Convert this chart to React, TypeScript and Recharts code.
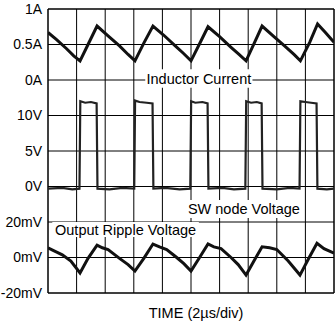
import { ComposedChart, Line, XAxis, YAxis, CartesianGrid, ReferenceArea } from 'recharts';

// time axis: 10 divisions of 2 µs
const timeTicks = [0, 2, 4, 6, 8, 10, 12, 14, 16, 18, 20];

// left axis labels, one per division line, bottom to top
const divTicks = [0, 1, 2, 3, 4, 5, 6, 7, 8];
const divLabels = ['-20mV', '0mV', '20mV', '0V', '5V', '10V', '0A', '0.5A', '1A'];

// inductor current (A)
const currentTimes = [0, 0.6, 1.3, 1.8, 2.24, 2.8, 3.43, 4.2, 5.0, 5.6, 6.08, 6.7, 7.34, 8.1, 8.9, 9.5, 10.0, 10.6, 11.19, 12.0, 12.8, 13.3, 13.85, 14.4, 14.97, 15.8, 16.6, 17.2, 17.65, 18.3, 18.85, 19.4, 20];
const currentAmps = [0.67, 0.57, 0.44, 0.34, 0.27, 0.5, 0.76, 0.62, 0.48, 0.36, 0.27, 0.52, 0.76, 0.63, 0.48, 0.37, 0.27, 0.51, 0.75, 0.61, 0.46, 0.37, 0.27, 0.51, 0.76, 0.61, 0.47, 0.36, 0.27, 0.53, 0.79, 0.67, 0.53];

// switch node voltage (V)
const swTimes = [0, 1.0, 1.7, 2.2, 2.26, 2.6, 3.0, 3.4, 3.46, 4.3, 5.2, 6.03, 6.09, 6.4, 6.9, 7.31, 7.37, 8.2, 9.2, 9.95, 10.01, 10.3, 10.8, 11.16, 11.22, 12.2, 13.0, 13.8, 13.86, 14.2, 14.6, 14.94, 15.0, 16.0, 16.9, 17.59, 17.65, 18.0, 18.4, 18.78, 18.84, 19.5, 20];
const swVolts = [-0.3, -0.2, -0.4, -0.3, 12.0, 11.8, 11.9, 11.7, -0.3, -0.4, -0.2, -0.3, 12.1, 11.9, 11.8, 11.7, -0.3, -0.2, -0.4, -0.3, 12.0, 11.8, 11.9, 11.7, -0.3, -0.2, -0.4, -0.3, 12.0, 11.8, 11.9, 11.7, -0.3, -0.4, -0.2, -0.3, 12.0, 11.9, 11.8, 11.7, -0.3, -0.4, -0.3];

// output ripple voltage (mV)
const rippleTimes = [0, 0.5, 1.0, 1.6, 2.24, 2.8, 3.43, 3.8, 4.2, 5.0, 5.6, 6.08, 6.7, 7.34, 7.8, 8.3, 9.0, 9.5, 10.0, 10.6, 11.19, 11.6, 12.1, 12.8, 13.3, 13.85, 14.4, 14.97, 15.5, 16.0, 16.8, 17.62, 18.2, 18.81, 19.3, 20];
const rippleMv = [5.4, 3.5, 1.5, -2, -8.7, -0.5, 7, 5.5, 4.5, -0.5, -4, -7.6, -0.5, 7.6, 6, 4.5, 0, -3.5, -7.6, 0, 7.6, 6, 5, 0, -4, -9.9, -2, 6, 5.5, 4.5, -2, -9.9, -1, 8, 5, 2.5];

const currentData = currentTimes.map((t, i) => ({ t, v: currentAmps[i] }));
const swData = swTimes.map((t, i) => ({ t, v: swVolts[i] }));
const rippleData = rippleTimes.map((t, i) => ({ t, v: rippleMv[i] }));

const labelStyle = { fill: '#000', fontSize: 14.5 };

export default function App() {
    return (
        <div style={{ position: 'absolute', left: 0, top: 0, width: 335, height: 324, background: '#fff', fontFamily: '"Liberation Sans", Arial, sans-serif' }}>
            <ComposedChart width={335} height={324} margin={{ top: 9, right: 1, bottom: 0, left: 0 }}>
                <XAxis
                    dataKey="t"
                    type="number"
                    domain={[0, 20]}
                    allowDataOverflow
                    ticks={timeTicks}
                    interval={0}
                    tick={() => <g />}
                    tickLine={false}
                    axisLine={false}
                    height={31}
                    label={{ value: 'TIME (2µs/div)', position: 'insideBottom', offset: 6, dx: 5, fill: '#000', fontSize: 14.5 }}
                />
                <YAxis
                    yAxisId="div"
                    type="number"
                    domain={[0, 8]}
                    allowDataOverflow
                    ticks={divTicks}
                    interval={0}
                    tickFormatter={(v: number) => divLabels[Math.round(v)]}
                    width={48}
                    tickSize={0}
                    tickMargin={6}
                    axisLine={false}
                    tick={{ fill: '#000', fontSize: 14 }}
                />
                <YAxis yAxisId="amp" orientation="right" width={0} type="number" domain={[-3, 1]} allowDataOverflow hide />
                <YAxis yAxisId="volt" orientation="right" width={0} type="number" domain={[-15, 25]} allowDataOverflow hide />
                <YAxis yAxisId="mv" orientation="right" width={0} type="number" domain={[-20, 140]} allowDataOverflow hide />
                <CartesianGrid stroke="#000" strokeWidth={1} yAxisId="div" />

                <ReferenceArea yAxisId="div" x1={0} x2={20} y1={0} y2={8} fill="none" stroke="#000" strokeWidth={1} />
                <ReferenceArea yAxisId="div" x1={6.8} x2={14.3} y1={5.78} y2={6.3} fill="#fff" fillOpacity={1} label={{ value: 'Inductor Current', position: 'center', ...labelStyle }} />
                <ReferenceArea yAxisId="div" x1={9.6} x2={17.8} y1={2.11} y2={2.62} fill="#fff" fillOpacity={1} label={{ value: 'SW node Voltage', position: 'center', ...labelStyle }} />
                <ReferenceArea yAxisId="div" x1={0.3} x2={10.55} y1={1.58} y2={2.0} fill="#fff" fillOpacity={1} label={{ value: 'Output Ripple Voltage', position: 'center', ...labelStyle }} />

                <Line yAxisId="amp" data={currentData} dataKey="v" stroke="#111" strokeWidth={3} dot={false} isAnimationActive={false} />
                <Line yAxisId="volt" data={swData} dataKey="v" stroke="#222" strokeWidth={2.2} dot={false} isAnimationActive={false} />
                <Line yAxisId="mv" data={rippleData} dataKey="v" stroke="#111" strokeWidth={3} dot={false} isAnimationActive={false} />
            </ComposedChart>
        </div>
    );
}
